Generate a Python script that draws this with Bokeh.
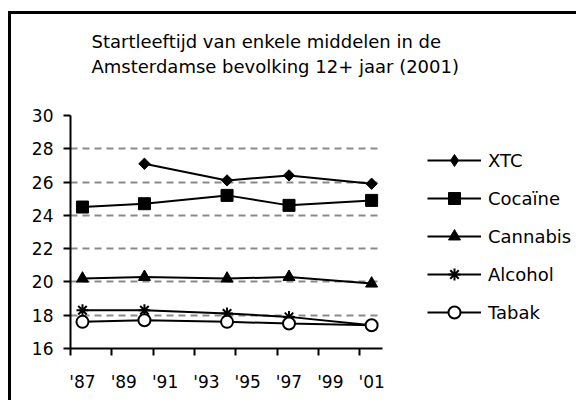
from bokeh.plotting import figure
from bokeh.models import FixedTicker, Legend, LegendItem, Range1d, Title
from bokeh.embed import file_html
from bokeh.resources import INLINE
import math

# ---- data ----
years = [1987, 1990, 1994, 1997, 2001]
years_xtc = [1990, 1994, 1997, 2001]
xtc = [27.1, 26.1, 26.4, 25.9]
cocaine = [24.5, 24.7, 25.2, 24.6, 24.9]
cannabis = [20.2, 20.3, 20.2, 20.3, 19.9]
alcohol = [18.3, 18.3, 18.1, 17.9, 17.4]
tabak = [17.6, 17.7, 17.6, 17.5, 17.4]

tick_years = [1987, 1989, 1991, 1993, 1995, 1997, 1999, 2001]
tick_labels = ["'87", "'89", "'91", "'93", "'95", "'97", "'99", "'01"]
y_ticks = [16, 18, 20, 22, 24, 26, 28, 30]
title_lines = ["Startleeftijd van enkele middelen in de",
               "Amsterdamse bevolking 12+ jaar (2001)"]

FONT = "DejaVu Sans"
TICK_SHIFT = 0.58            # tick marks sit slightly left of the labels
AXIS_BOUNDS = (1986.42, 2001.51)  # visible extent of the x axis

# the frame reaches to the right edge so that the legend can sit inside it
p = figure(frame_width=506, frame_height=233, output_backend="svg", toolbar_location=None,
           x_range=Range1d(1986.42, 2010.92), y_range=Range1d(16, 30),
           min_border_left=59, min_border_top=101, min_border_bottom=52,
           min_border_right=0, outline_line_color=None)
p.styles = {"border-top": "3px solid black", "border-left": "3px solid black",
            "margin-top": "11px", "margin-left": "8px"}

# x axis: labels at the years, tick marks drawn as minor ticks
p.xaxis.bounds = AXIS_BOUNDS
p.xaxis.ticker = FixedTicker(ticks=tick_years,
                             minor_ticks=[t - TICK_SHIFT for t in tick_years])
p.xaxis.major_label_overrides = {t: l for t, l in zip(tick_years, tick_labels)}
p.xaxis.major_tick_line_color = None
p.xaxis.major_tick_out = 0
p.xaxis.major_tick_in = 0
p.xaxis.minor_tick_line_color = "black"
p.xaxis.minor_tick_line_width = 2
p.xaxis.minor_tick_out = 7
p.xaxis.minor_tick_in = 0
p.xaxis.axis_line_width = 2
p.xaxis.major_label_standoff = 16
p.xaxis.major_label_text_font = FONT
p.xaxis.major_label_text_font_size = "17px"
p.xaxis.major_label_text_color = "black"

p.yaxis.ticker = FixedTicker(ticks=y_ticks)
p.yaxis.axis_line_width = 2
p.yaxis.major_tick_line_width = 2
p.yaxis.major_tick_out = 7
p.yaxis.major_tick_in = 0
p.yaxis.minor_tick_line_color = None
p.yaxis.major_label_standoff = 10
p.yaxis.major_label_text_font = FONT
p.yaxis.major_label_text_font_size = "17px"
p.yaxis.major_label_text_color = "black"

p.xgrid.grid_line_color = None
p.ygrid.grid_line_color = "#8a8a8a"
p.ygrid.grid_line_dash = "7 5"
p.ygrid.grid_line_width = 2
p.ygrid.cross_bounds = AXIS_BOUNDS

# series
items = []
def series(xs, ys, marker, name, fill="black", size=12, angle=0.0, legend_marker=None):
    lr = p.line(xs, ys, line_color="black", line_width=2)
    lw = 2 if fill == "white" or marker == "asterisk" else 1
    sr = p.scatter(xs, ys, marker=marker, size=size, fill_color=fill,
                   line_color="black", line_width=lw, angle=angle)
    if legend_marker is not None:
        # legend-only proxy (legend glyphs are drawn without rotation)
        sr = p.scatter([float("nan")], [float("nan")], marker=legend_marker,
                       fill_color=fill, line_color="black", line_width=lw)
    items.append(LegendItem(label=name, renderers=[lr, sr]))

series(years_xtc, xtc, "square", "XTC", size=8, angle=math.pi / 4, legend_marker="diamond")
series(years, cocaine, "square", "Cocaïne", size=12)
series(years, cannabis, "triangle", "Cannabis", size=12)
series(years, alcohol, "asterisk", "Alcohol", size=12)
series(years, tabak, "circle", "Tabak", fill="white", size=12)

legend = Legend(items=items, location=(357, 21), orientation="vertical",
                glyph_width=54, glyph_height=30, label_height=30, spacing=8,
                label_standoff=7, padding=0, margin=0, border_line_color=None,
                background_fill_alpha=0, label_text_font=FONT,
                label_text_font_size="18px", label_text_color="black",
                label_text_baseline="middle")
p.add_layout(legend, "center")

# two-line title (trailing empty line adds space beneath the second line)
p.add_layout(Title(text="\n".join(title_lines) + "\n", align="left", offset=21,
                   standoff=27, text_line_height=1.2,
                   text_font=FONT, text_font_size="18px", text_font_style="normal",
                   text_color="black"), "above")

open("out.html", "w").write(file_html(p, INLINE))
